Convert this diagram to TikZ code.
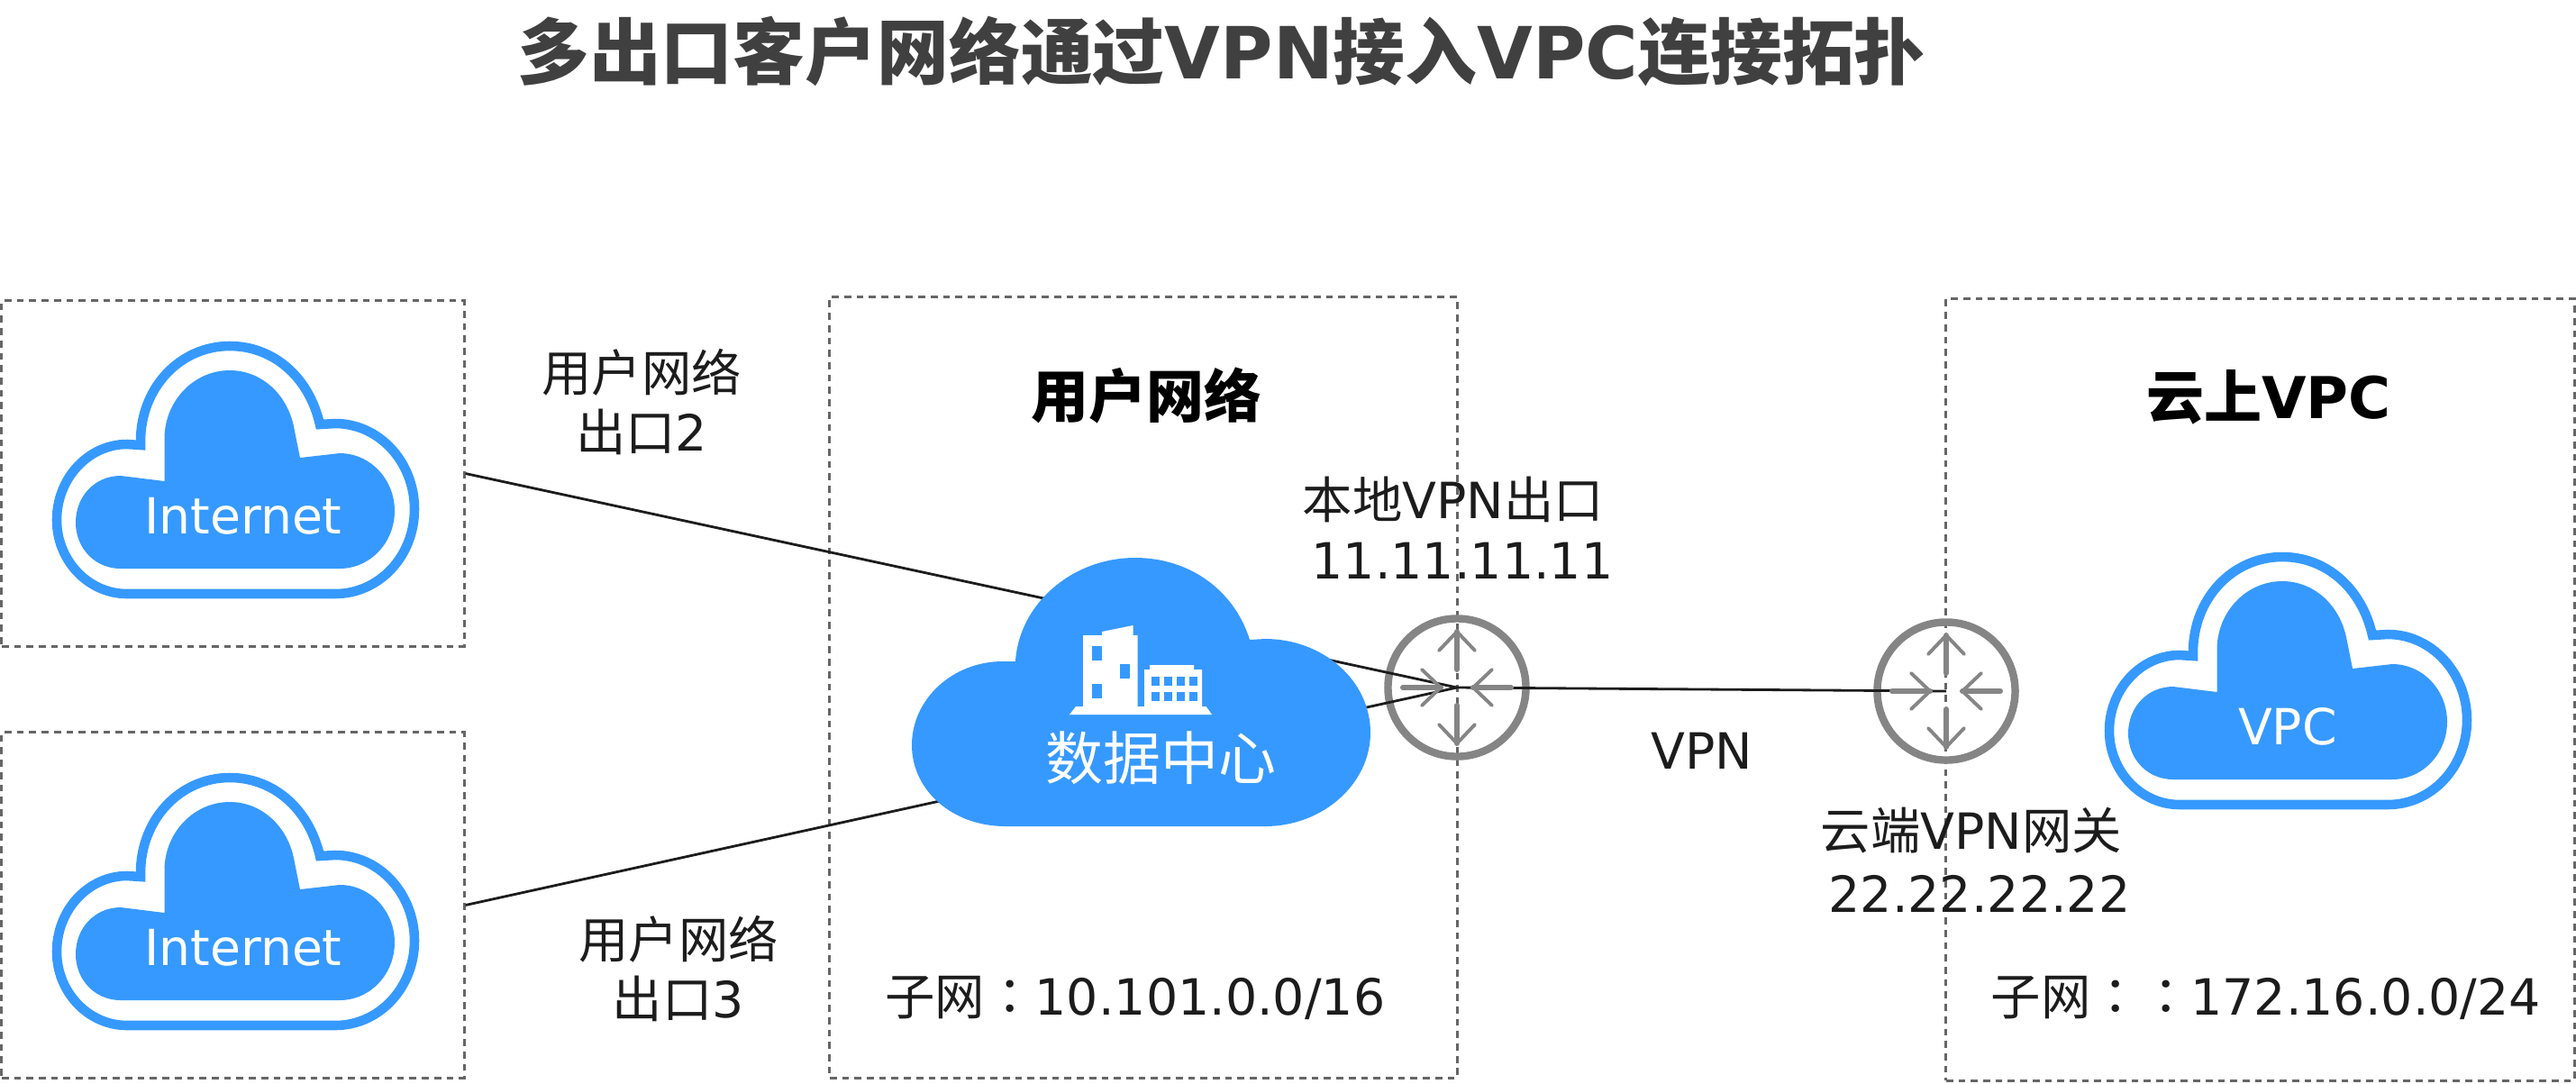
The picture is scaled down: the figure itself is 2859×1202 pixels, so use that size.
\documentclass[tikz,border=0pt]{standalone}
\usepackage{fontspec}
\usepackage{xcolor}
\setmainfont{DejaVu Sans}
\newfontfamily\cjk{Noto Sans CJK SC}
\newfontfamily\cjkcolon{Noto Sans CJK TC}
\usetikzlibrary{positioning,calc}
\definecolor{cloudblue}{HTML}{3699FF}
\definecolor{routergray}{HTML}{858585}
\definecolor{boxgray}{HTML}{666666}
\definecolor{inkblack}{HTML}{1C1C1C}
\definecolor{titlegray}{HTML}{404040}
\tikzset{
    zonebox/.style={draw=boxgray, line width=0.85pt, dash pattern=on 2.2pt off 1.7pt, inner sep=0pt},
    link/.style={draw=inkblack, line width=0.8pt},
    router/.style={circle, draw=routergray, line width=2.4pt, minimum size=1.53cm, inner sep=0pt},
    routerarrow/.style={draw=routergray, line width=1.1pt, line cap=round},
    routerstem/.style={draw=routergray, line width=1.7pt, line cap=round},
    labeltext/.style={text=inkblack, font=\fontsize{15.75}{18.5}\selectfont, inner sep=0pt, align=center},
    headtext/.style={text=black, font=\fontsize{18.2}{21}\selectfont\bfseries, inner sep=0pt},
    cloudtext/.style={text=white, font=\fontsize{15.7}{18}\selectfont, inner sep=0pt},
    cloudicon/.pic={
        % draw the outer ring
        \draw[draw=cloudblue, line width=3pt, miter limit=10] (-114,139) -- (117,139)
            .. controls (166,139) and (205,97) .. (205,45)
            .. controls (205,-7) and (166,-50) .. (117,-50) -- (100,-49)
            .. controls (88,-102) and (48,-136) .. (0,-136)
            .. controls (-55,-136) and (-99,-90) .. (-99,-30) -- (-99,-26) -- (-114,-27)
            .. controls (-157,-27) and (-192,11) .. (-192,57)
            .. controls (-192,102) and (-157,139) .. (-114,139) -- cycle;
        % draw the inner body
        \fill[cloudblue] (-121,111) -- (122,111)
            .. controls (156,111) and (183,82) .. (183,47)
            .. controls (183,12) and (156,-17) .. (122,-17) -- (78,-12) -- (71,-47)
            .. controls (63,-84) and (34,-109) .. (0,-109)
            .. controls (-40,-109) and (-72.5,-75) .. (-72.5,-33) -- (-72.5,14) -- (-121,8)
            .. controls (-150,8) and (-171,31) .. (-171,60)
            .. controls (-171,88) and (-150,111) .. (-121,111) -- cycle;
    }
}

\begin{document}
\begin{tikzpicture}[x=0.01cm,y=-0.01cm]
    \useasboundingbox (0,0) rectangle (2859,1202);
    % draw the title
    \node[text=titlegray, font=\fontsize{22.7}{26}\selectfont\bfseries, inner sep=0pt] (title) at (1356,57)
        {{\cjk 多出口客户网络通过}VPN{\cjk 接入}VPC{\cjk 连接拓扑}};
    % draw the dashed zones
    \node[zonebox, minimum width=5.13cm, minimum height=3.83cm] (exit2box) at (258.5,525.5) {};
    \node[zonebox, minimum width=5.13cm, minimum height=3.83cm] (exit3box) at (258.5,1004.5) {};
    \node[zonebox, minimum width=6.96cm, minimum height=8.66cm] (userbox) at (1269,763) {};
    \node[zonebox, minimum width=6.97cm, minimum height=8.67cm] (vpcbox) at (2508.5,765.5) {};
    % draw the routers
    \node[router] (localgw) at (1617,763) {};
    \node[router] (cloudgw) at (2160,767) {};
    % draw the links
    \draw[link] (exit2box.east) -- (localgw.center);
    \draw[link] (exit3box.east) -- (localgw.center);
    \draw[link] (localgw.center) -- (cloudgw.center);
    % draw the router arrows
    \foreach \gw in {localgw,cloudgw}
    \foreach \ang/\from/\to/\barb in {90/20/62/41,270/20/62/41,0/60/18/39,180/60/18/39}
    {
        \draw[routerstem] ($(\gw.center)+(\ang:\from)$) -- ($(\gw.center)+(\ang:\to)$);
        \draw[routerarrow] ($(\gw.center)+(\ang:\barb)+(\ang+90:20)$)
            -- ($(\gw.center)+(\ang:\to)$)
            -- ($(\gw.center)+(\ang:\barb)+(\ang-90:20)$);
    }
    % draw the clouds
    \pic at (255,520) {cloudicon};
    \pic at (255,999) {cloudicon};
    \pic at (2533,754) {cloudicon};
    \node[cloudtext] (inet2) at (270,573) {Internet};
    \node[cloudtext] (inet3) at (270,1052) {Internet};
    \node[cloudtext] (vpctext) at (2539,806) {VPC};
    % draw the data center
    \fill[cloudblue] (1116,917) -- (1404,917)
        .. controls (1468,917) and (1521,870) .. (1521,813)
        .. controls (1521,755) and (1468,709) .. (1404,709) -- (1387,710)
        .. controls (1370,655) and (1320,619) .. (1260,619)
        .. controls (1190,619) and (1131,670) .. (1127,734) -- (1113,734)
        .. controls (1057,734) and (1012,776) .. (1012,827)
        .. controls (1012,877) and (1057,917) .. (1116,917) -- cycle;
    % draw the buildings
    \fill[white] (1187,793) -- (1194,784) -- (1202,784) -- (1202,705) -- (1223,705) -- (1223,701)
        -- (1257.5,694) -- (1257.5,705) -- (1262.5,705) -- (1262.5,784) -- (1270,784) -- (1270,743)
        -- (1276,743) -- (1276,738) -- (1325,738) -- (1325,743) -- (1334,743) -- (1334,784)
        -- (1338.6,784) -- (1345,793) -- cycle;
    \fill[cloudblue] (1212,717) rectangle (1223,733);
    \fill[cloudblue] (1243,737) rectangle (1254,753);
    \fill[cloudblue] (1212,759) rectangle (1223,775);
    \foreach \x in {1278,1292,1306,1320}
    \foreach \y in {751,768}
    \fill[cloudblue] (\x,\y) rectangle (\x+8.5,\y+10);
    \node[text=white, font=\fontsize{18.2}{21}\selectfont\cjk, inner sep=0pt] (dctext) at (1288,841) {数据中心};
    % draw the labels
    \node[headtext] (userhead) at (1272,439) {\cjk 用户网络};
    \node[headtext] (vpchead) at (2518,441) {{\cjk 云上}VPC};
    \node[labeltext] (exit2text) at (712,446) {{\cjk 用户网络}\\{\cjk 出口}2};
    \node[labeltext] (exit3text) at (753,1075) {{\cjk 用户网络}\\ {\cjk 出口}3};
    \node[labeltext] (localtext) at (1613,554) {{\cjk 本地}VPN{\cjk 出口}};
    \node[labeltext] (localip) at (1623,622) {11.11.11.11};
    \node[labeltext] (vpntext) at (1889,833) {VPN};
    \node[labeltext] (cloudtext) at (2188,922) {{\cjk 云端}VPN{\cjk 网关}};
    \node[labeltext] (cloudip) at (2197,992) {22.22.22.22};
    \node[labeltext] (usernet) at (1260,1107) {{\cjk 子网}{\cjkcolon ：}10.101.0.0/16};
    \node[labeltext] (vpcnet) at (2515,1107) {{\cjk 子网}{\cjkcolon ：：}172.16.0.0/24};
\end{tikzpicture}
\end{document}
